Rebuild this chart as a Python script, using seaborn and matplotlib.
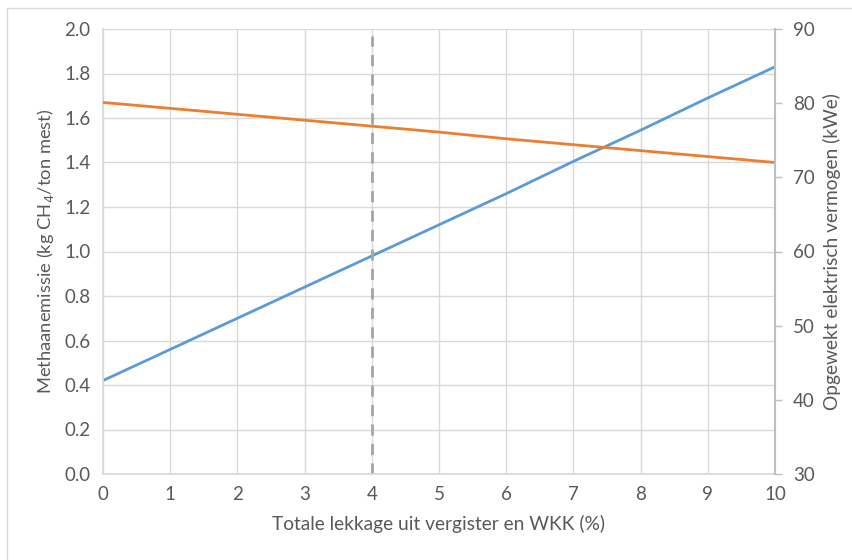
import matplotlib
matplotlib.use("Agg")
import matplotlib.pyplot as plt
import seaborn as sns
import pandas as pd
from matplotlib.patches import Rectangle

lekkage = [0, 1, 2, 3, 4, 5, 6, 7, 8, 9, 10]
methaan = [0.42, 0.56, 0.70, 0.84, 0.98, 1.12, 1.26, 1.405, 1.545, 1.69, 1.83]
vermogen = [80.1, 79.3, 78.5, 77.7, 76.9, 76.1, 75.2, 74.4, 73.6, 72.8, 72.0]
marker_x = 4
marker_top = 1.97

sns.set_theme(style="white")
plt.rcParams['font.family'] = ['Lato', 'DejaVu Sans']

txt = "#595959"
grid = "#D9D9D9"

df = pd.DataFrame({"x": lekkage, "m": methaan, "v": vermogen})

fig = plt.figure(figsize=(8.53, 5.60), dpi=100)
ax = fig.add_axes([103/853, 1-474/560, (775-103)/853, (474-29)/560])
ax2 = ax.twinx()

sns.lineplot(data=df, x="x", y="m", ax=ax, color="#5B9BD5", linewidth=2)
sns.lineplot(data=df, x="x", y="v", ax=ax2, color="#ED7D31", linewidth=2)
ax.plot([marker_x, marker_x], [0, marker_top], color="#A5A5A5", linestyle=(0, (4, 3)), linewidth=2)

ax.set_xlim(0, 10)
ax.set_ylim(0, 2.0)
ax2.set_ylim(30, 90)
ax.set_xticks(range(0, 11))
ax.set_yticks([i * 0.2 for i in range(11)])
ax.set_yticklabels([f"{i*0.2:.1f}" for i in range(11)])
ax2.set_yticks(range(30, 91, 10))

ax.grid(True, color=grid, linewidth=1)
ax.set_axisbelow(True)
for s in ax.spines.values():
    s.set_visible(False)
for s in ax2.spines.values():
    s.set_visible(False)
ax.spines["bottom"].set_visible(True)
ax.spines["bottom"].set_color(grid)
ax.spines["left"].set_visible(True)
ax.spines["left"].set_color(grid)
ax2.spines["right"].set_visible(True)
ax2.spines["right"].set_color("#BFBFBF")
ax2.spines["right"].set_linewidth(1.5)

ax.tick_params(axis="both", labelsize=13.5, colors=txt, length=0, pad=9)
ax2.tick_params(axis="y", labelsize=13.5, colors=txt, length=5, color="#BFBFBF", pad=8, width=1)

ax.set_xlabel("Totale lekkage uit vergister en WKK (%)", fontsize=13.8, color=txt, labelpad=8)
ax.set_ylabel("Methaanemissie (kg CH$_4$/ton mest)", fontsize=13.2, color=txt, labelpad=6)
ax2.set_ylabel("Opgewekt elektrisch vermogen (kWe)", fontsize=13.8, color=txt, labelpad=6)

fig.patches.append(Rectangle((7/853, -0.05), 1.0, (1.05 - 8/560), transform=fig.transFigure,
                             fill=False, edgecolor="#D9D9D9", linewidth=1))

fig.savefig("out.png", dpi=100)
